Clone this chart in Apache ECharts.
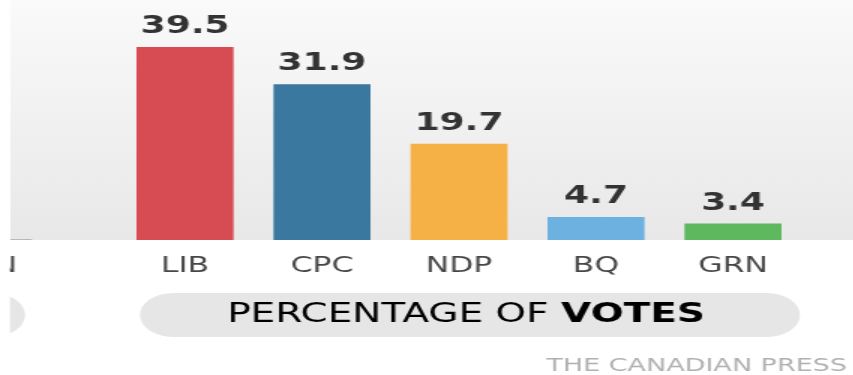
<!DOCTYPE html>
<html lang="en">
<head>
    <meta charset="UTF-8">
    <title>Percentage of votes</title>
    <style>
        *{ margin: 0; padding: 0; }
        html, body{ width: 853px; height: 375px; background: #fff; overflow: hidden; }
        /* the source graphic is stretched sideways, so draw narrow and widen it */
        #chart{
            width: 569px;
            height: 375px;
            transform: scaleX(1.5);
            transform-origin: 0 0;
        }
    </style>
</head>
<body>
    <div id="chart"></div>
    <script src="https://cdn.jsdelivr.net/npm/echarts@6/dist/echarts.min.js"></script>
    <script>
        var parties = ['LIB', 'CPC', 'NDP', 'BQ', 'GRN'];
        var votes = [39.5, 31.9, 19.7, 4.7, 3.4];
        var partyColors = ['#d74b53', '#3a789f', '#f5b145', '#6db1e1', '#5db85e'];

        var chart = echarts.init(document.getElementById('chart'));

        var option = {
            animation: false,
            grid: { left: 77.67, right: 34.66, top: 44.6, bottom: 135 },
            xAxis: {
                type: 'category',
                data: parties,
                axisLine: { show: false },
                axisTick: { show: false },
                axisLabel: {
                    color: '#474747',
                    fontSize: 21,
                    fontFamily: 'DejaVu Sans',
                    margin: 16
                }
            },
            yAxis: {
                type: 'value',
                min: 0,
                max: 40,
                show: false
            },
            graphic: [
                {
                    type: 'rect', z: -10, silent: true,
                    shape: { x: 6.67, y: 0, width: 563, height: 240 },
                    style: {
                        fill: new echarts.graphic.LinearGradient(0, 0, 0, 1, [
                            { offset: 0, color: '#fafafa' },
                            { offset: 1, color: '#e8e8e8' }
                        ])
                    }
                },
                {
                    type: 'line', z: -9, silent: true,
                    shape: { x1: 6.67, y1: 239.5, x2: 21.3, y2: 239.5 },
                    style: { stroke: '#b8b8b8', lineWidth: 1 }
                },
                {
                    type: 'text', silent: true,
                    style: {
                        x: 11.5, y: 267, text: 'GRN', align: 'right', verticalAlign: 'middle',
                        fill: '#474747', font: '21px "DejaVu Sans"'
                    }
                },
                {
                    type: 'rect', silent: true,
                    shape: { x: -200, y: 293, width: 216.7, height: 44, r: 22 },
                    style: { fill: '#e6e6e6' }
                },
                {
                    type: 'rect', silent: true, z: 100,
                    shape: { x: 0, y: 0, width: 6.67, height: 375 },
                    style: { fill: '#ffffff' }
                },
                {
                    type: 'rect', silent: true,
                    shape: { x: 93.3, y: 293, width: 440, height: 44, r: 22 },
                    style: { fill: '#e6e6e6' }
                },
                {
                    type: 'text', silent: true,
                    style: {
                        x: 310.7, y: 315,
                        align: 'center', verticalAlign: 'middle',
                        text: '{n|PERCENTAGE OF }{b|VOTES}',
                        rich: {
                            n: { fontSize: 26, fontFamily: 'DejaVu Sans', color: '#2f2f2f' },
                            b: { fontSize: 26, fontFamily: 'DejaVu Sans', fontWeight: 'bold', color: '#1f1f1f' }
                        }
                    }
                },
                {
                    type: 'text', silent: true,
                    style: {
                        x: 564.7, y: 366, align: 'right', verticalAlign: 'middle',
                        text: 'THE CANADIAN PRESS',
                        fill: '#b0b0b0', font: '18px "DejaVu Sans"'
                    }
                }
            ],
            series: [{
                type: 'bar',
                barWidth: 64.67,
                data: votes.map(function(v, i){
                    return { value: v, itemStyle: { color: partyColors[i] } };
                }),
                label: {
                    show: true,
                    position: 'top',
                    distance: 8,
                    color: '#333',
                    fontSize: 24,
                    fontWeight: 'bold',
                    fontFamily: 'DejaVu Sans',
                    formatter: function(p){ return p.value.toFixed(1); }
                }
            }]
        };

        chart.setOption(option);
    </script>
</body>
</html>
